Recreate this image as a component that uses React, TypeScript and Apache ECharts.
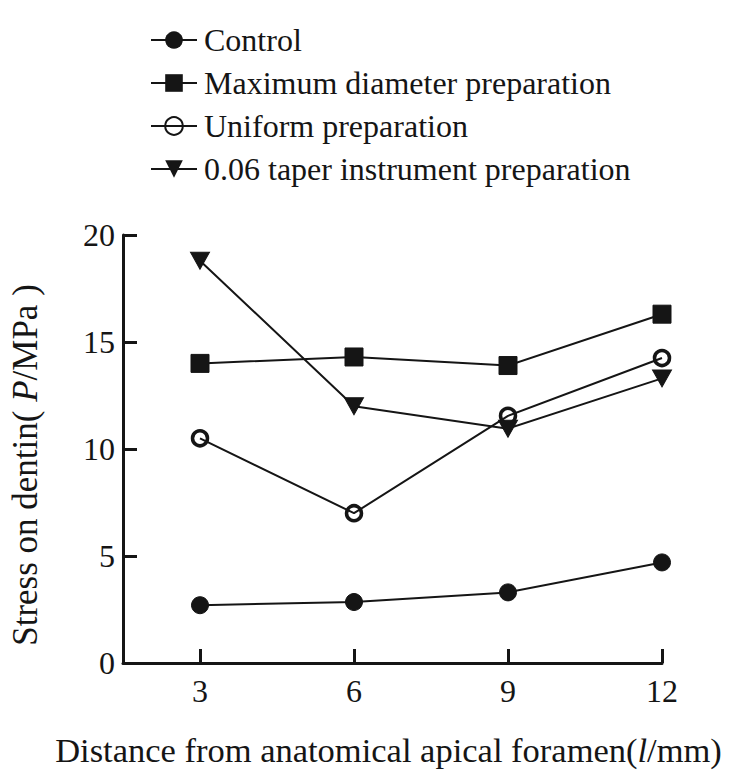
import React, { useEffect, useRef } from "react";
import * as echarts from "echarts";

const distances = [3, 6, 9, 12];
const yTicks = [0, 5, 10, 15, 20];
const seriesNames = [
  "Control",
  "Maximum diameter preparation",
  "Uniform preparation",
  "0.06 taper instrument preparation",
];
const controlValues = [2.7, 2.85, 3.3, 4.7];
const maxDiameterValues = [14.0, 14.3, 13.9, 16.3];
const uniformValues = [10.5, 7.0, 11.55, 14.25];
const taperValues = [18.8, 12.0, 10.95, 13.3];

const FONT = "Liberation Serif";
const INK = "#151515";

export default function App() {
  const ref = useRef<HTMLDivElement>(null);
  useEffect(() => {
    if (!ref.current) return;
    const chart = echarts.init(ref.current, null, { renderer: "svg" });
    const pair = (vals: number[]) => distances.map((d, i) => [d, vals[i]]);
    const base = {
      type: "line",
      lineStyle: { color: INK, width: 2 },
      itemStyle: { color: INK, borderColor: INK },
      emphasis: { disabled: true },
      z: 3,
    };
    chart.setOption({
      animation: false,
      backgroundColor: "#fff",
      textStyle: { fontFamily: FONT },
      grid: { left: 122, right: 72, top: 235, bottom: 118 },
      legend: {
        orient: "vertical",
        left: 145,
        top: 19,
        itemWidth: 46,
        itemHeight: 22,
        itemGap: 11,
        data: seriesNames,
        textStyle: {
          fontFamily: FONT,
          fontSize: 32,
          lineHeight: 32,
          color: INK,
          padding: [0, 0, 0, 2],
        },
      },
      xAxis: {
        type: "value",
        min: 1.5,
        max: 12,
        name: "Distance from anatomical apical foramen({it|l}/mm)",
        nameLocation: "middle",
        nameGap: 69,
        nameTextStyle: {
          fontFamily: FONT,
          fontSize: 34.5,
          color: INK,
          padding: [0, 8, 0, 0],
          rich: { it: { fontStyle: "italic", fontFamily: FONT, fontSize: 34.5, color: INK } },
        },
        axisLine: { show: true, lineStyle: { color: INK, width: 3 } },
        axisTick: {
          show: true,
          inside: true,
          length: 14,
          lineStyle: { color: INK, width: 3 },
          customValues: distances,
        },
        axisLabel: {
          fontFamily: FONT,
          fontSize: 32,
          color: INK,
          margin: 12,
          customValues: distances,
        },
        splitLine: { show: false },
      },
      yAxis: {
        type: "value",
        min: 0,
        max: 20,
        interval: 5,
        name: "Stress on dentin( {it|P}/MPa )",
        nameLocation: "middle",
        nameGap: 80,
        nameTextStyle: {
          fontFamily: FONT,
          fontSize: 35,
          color: INK,
          padding: [0, 32, 0, 0],
          rich: { it: { fontStyle: "italic", fontFamily: FONT, fontSize: 35, color: INK } },
        },
        axisLine: { show: true, lineStyle: { color: INK, width: 3 } },
        axisTick: {
          show: true,
          inside: true,
          length: 14,
          lineStyle: { color: INK, width: 3 },
        },
        axisLabel: {
          fontFamily: FONT,
          fontSize: 32,
          color: INK,
          margin: 8,
          formatter: (v: number) => (yTicks.includes(v) ? String(v) : ""),
        },
        splitLine: { show: false },
      },
      series: [
        { ...base, name: seriesNames[0], data: pair(controlValues), symbol: "circle", symbolSize: 17 },
        { ...base, name: seriesNames[1], data: pair(maxDiameterValues), symbol: "rect", symbolSize: 18 },
        {
          ...base,
          name: seriesNames[2],
          data: pair(uniformValues),
          symbol: "circle",
          symbolSize: 15,
          itemStyle: { color: "rgba(255,255,255,0)", borderColor: INK, borderWidth: 3.5 },
        },
        {
          ...base,
          name: seriesNames[3],
          data: pair(taperValues),
          symbol: "triangle",
          symbolRotate: 180,
          symbolSize: [19, 17],
        },
      ],
    });
    return () => chart.dispose();
  }, []);
  return (
    <div
      ref={ref}
      style={{ position: "fixed", left: 0, top: 0, width: 734, height: 781, background: "#fff" }}
    />
  );
}
